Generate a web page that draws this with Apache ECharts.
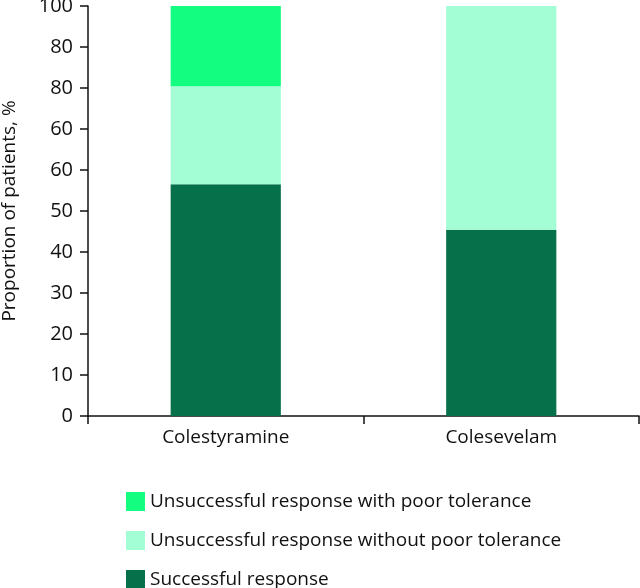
<!DOCTYPE html>
<html>
<head>
<meta charset="utf-8">
<script src="https://cdn.jsdelivr.net/npm/echarts@6/dist/echarts.min.js"></script>
<style>html,body{margin:0;padding:0;background:#fff}#c{width:640px;height:588px}</style>
</head>
<body>
<div id="c"></div>
<script>
var categories = ["Colestyramine", "Colesevelam"];
var successful = [56.5, 45.4];
var unsuccessfulWithout = [23.9, 54.6];
var unsuccessfulWithPoor = [19.6, 0];
var yTickLabels = ["0", "10", "20", "30", "40", "50", "60", "60", "80", "80", "100"];
var seriesNames = ["Successful response", "Unsuccessful response without poor tolerance", "Unsuccessful response with poor tolerance"];
var colors = ["#05704A", "#A3FED6", "#13FE80"];

var chart = echarts.init(document.getElementById('c'), null, {renderer: 'canvas'});
var font = "'Open Sans', sans-serif";
var txt = '#111';
chart.setOption({
  animation: false,
  grid: {left: 88, right: 1, top: 6, bottom: 172, containLabel: false, outerBoundsMode: 'none'},
  legend: {
    orient: 'vertical', left: 121, top: 487, height: 120, itemGap: 20,
    itemWidth: 19, itemHeight: 19, icon: 'rect',
    data: [seriesNames[2], seriesNames[1], seriesNames[0]],
    textStyle: {fontFamily: font, fontSize: 19, color: txt}
  },
  xAxis: {
    type: 'category', data: categories,
    axisLine: {lineStyle: {color: '#111', width: 1.5}},
    axisTick: {show: true, alignWithLabel: false, length: 8, lineStyle: {color: '#111', width: 1.5}},
    axisLabel: {fontFamily: font, fontSize: 19, color: txt, margin: 12}
  },
  yAxis: {
    type: 'value', min: 0, max: 100, interval: 10,
    name: 'Proportion of patients, %', nameLocation: 'middle', nameGap: 69,
    nameTextStyle: {fontFamily: font, fontSize: 19, color: txt},
    axisLine: {show: true, lineStyle: {color: '#111', width: 1.5}},
    axisTick: {show: true, length: 8, lineStyle: {color: '#111', width: 1.5}},
    splitLine: {show: false},
    axisLabel: {fontFamily: font, fontSize: 20, color: txt, margin: 15,
      formatter: function (v) { return yTickLabels[Math.round(v / 10)]; }}
  },
  series: [
    {name: seriesNames[0], type: 'bar', stack: 's', data: successful, barWidth: '40%', itemStyle: {color: colors[0]}},
    {name: seriesNames[1], type: 'bar', stack: 's', data: unsuccessfulWithout, barWidth: '40%', itemStyle: {color: colors[1]}},
    {name: seriesNames[2], type: 'bar', stack: 's', data: unsuccessfulWithPoor, barWidth: '40%', itemStyle: {color: colors[2]}}
  ]
});
</script>
</body>
</html>
